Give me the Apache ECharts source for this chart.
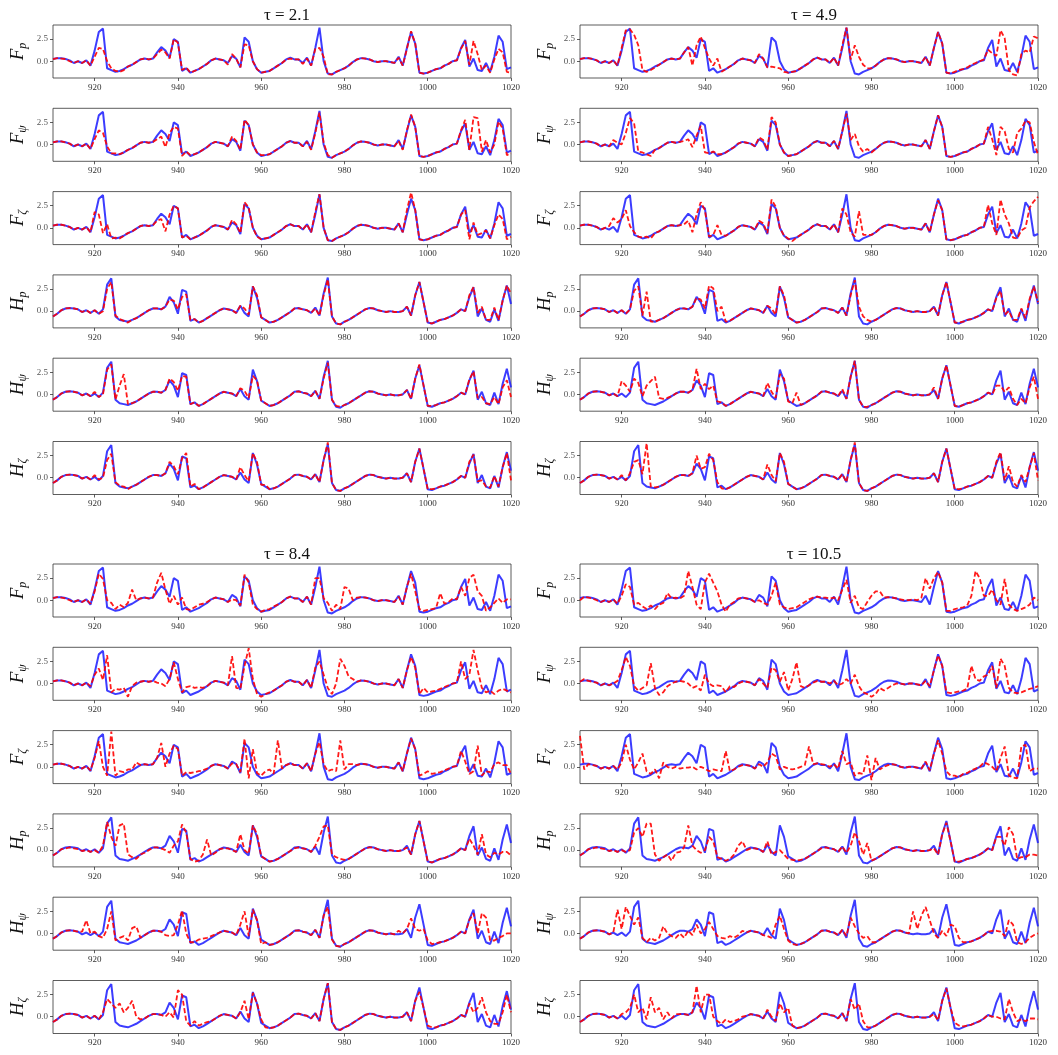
<!DOCTYPE html>
<html><head><meta charset="utf-8">
<script src="https://cdn.jsdelivr.net/npm/echarts@6/dist/echarts.min.js"></script>
<style>html,body{margin:0;padding:0;background:#fff}#c{width:1058px;height:1055px}</style>
</head><body><div id="c"></div>
<script>
const times = [910,911,912,913,914,915,916,917,918,919,920,921,922,923,924,925,926,927,928,929,930,931,932,933,934,935,936,937,938,939,940,941,942,943,944,945,946,947,948,949,950,951,952,953,954,955,956,957,958,959,960,961,962,963,964,965,966,967,968,969,970,971,972,973,974,975,976,977,978,979,980,981,982,983,984,985,986,987,988,989,990,991,992,993,994,995,996,997,998,999,1000,1001,1002,1003,1004,1005,1006,1007,1008,1009,1010,1011,1012,1013,1014,1015,1016,1017,1018,1019,1020];
const xTickValues = [920,940,960,980,1000,1020];
const yTickValues = [0, 2.5];
const titles = ['τ = 2.1','τ = 4.9','τ = 8.4','τ = 10.5'];
const rowNames = [['F','p'],['F','ψ'],['F','ζ'],['H','p'],['H','ψ'],['H','ζ']];

const blueF = [
0.25,0.35,0.35,0.25,0.1,-0.2,0.0,-0.2,0.1,-0.5,
1.2,3.3,3.7,-0.8,-1.0,-1.2,-1.1,-0.9,-0.6,-0.4,
-0.1,0.2,0.3,0.2,0.3,1.0,1.6,1.2,0.4,2.5,
2.2,-1.1,-0.8,-1.3,-1.1,-0.9,-0.6,-0.3,0.1,0.3,
0.2,0.1,-0.2,0.6,0.3,-0.7,2.7,2.2,0.0,-0.9,
-1.3,-1.2,-1.1,-0.8,-0.5,-0.2,0.2,0.4,0.2,0.2,
-0.2,0.4,-0.5,1.5,3.8,0.0,-1.4,-1.5,-1.2,-1.0,
-0.8,-0.5,-0.1,0.2,0.35,0.3,0.2,0.0,-0.1,0.0,
0.0,-0.1,-0.2,0.5,-0.5,1.5,3.3,2.0,-1.3,-1.4,
-1.3,-1.1,-0.9,-0.8,-0.5,-0.3,0.0,0.1,1.5,2.4,
-0.6,0.3,-1.0,-1.1,-0.2,-1.2,0.5,2.9,2.2,-0.9,-0.7];
const blueH = [
-0.6,-0.3,0.1,0.3,0.35,0.3,0.2,-0.1,0.1,-0.2,
0.1,-0.3,0.2,3.0,3.7,-0.6,-1.0,-1.1,-1.2,-1.0,
-0.8,-0.5,-0.2,0.1,0.3,0.3,0.2,0.5,1.6,1.0,
-0.3,2.4,2.2,-1.1,-0.9,-1.3,-1.1,-0.8,-0.5,-0.2,
0.1,0.3,0.2,0.1,-0.2,0.6,-0.2,-0.6,2.8,1.5,
-0.7,-1.0,-1.3,-1.2,-1.0,-0.7,-0.4,-0.1,0.3,0.35,
0.2,0.1,-0.2,0.4,-0.5,2.0,3.8,-0.6,-1.4,-1.5,
-1.2,-1.0,-0.7,-0.4,-0.1,0.2,0.35,0.3,0.1,0.0,
-0.1,0.0,-0.1,-0.1,0.0,0.5,-0.5,1.8,3.3,1.0,
-1.3,-1.4,-1.2,-1.0,-0.9,-0.7,-0.5,-0.2,0.2,0.0,
1.6,2.7,-0.6,0.3,-1.0,-1.2,0.2,-1.1,1.2,2.9,0.8];

const tau21_Fp = [
0.25,0.35,0.3,0.25,0.0,-0.2,0.0,-0.2,0.1,-0.5,
0.5,1.5,1.4,0.0,-0.8,-1.1,-1.2,-1.0,-0.6,-0.4,
-0.1,0.2,0.3,0.2,0.3,0.8,1.3,1.0,0.3,2.5,
2.1,-1.0,-0.7,-1.3,-1.1,-0.9,-0.6,-0.3,0.1,0.3,
0.2,0.1,-0.4,0.8,0.3,-0.7,1.9,1.8,0.0,-0.9,
-1.3,-1.2,-1.1,-0.8,-0.5,-0.2,0.2,0.3,0.2,0.2,
-0.3,0.3,-0.5,1.4,1.5,0.5,-1.5,-1.5,-1.2,-1.0,
-0.8,-0.5,-0.1,0.2,0.35,0.3,0.2,0.0,-0.1,0.0,
0.0,-0.1,-0.2,0.4,-0.5,1.4,3.4,2.0,-1.3,-1.4,
-1.3,-1.1,-0.9,-0.8,-0.5,-0.3,0.0,0.1,1.4,2.3,
-0.4,2.3,0.8,-1.0,-0.5,-1.3,0.2,1.4,1.0,-1.2,-1.3];
const tau21_Fpsi = [
0.25,0.35,0.35,0.25,0.1,-0.2,0.0,-0.2,0.1,-0.5,
0.6,1.6,1.3,-0.2,-1.0,-1.0,-1.1,-0.9,-0.6,-0.4,
-0.1,0.2,0.3,0.2,0.3,0.6,0.9,-0.3,1.3,2.0,
1.8,-1.3,-0.8,-1.2,-1.1,-0.9,-0.6,-0.3,0.1,0.3,
0.2,0.1,-0.2,0.9,0.4,-0.6,2.8,2.2,0.0,-0.9,
-1.2,-1.2,-1.1,-0.8,-0.5,-0.2,0.2,0.4,0.2,0.2,
-0.2,0.3,-0.6,1.3,3.6,0.2,-1.2,-1.5,-1.2,-1.0,
-0.8,-0.5,-0.1,0.2,0.35,0.3,0.2,0.0,-0.1,0.0,
0.0,-0.1,-0.2,0.4,-0.6,1.6,3.4,2.0,-1.3,-1.4,
-1.3,-1.1,-0.9,-0.8,-0.5,-0.3,0.0,0.1,1.6,2.8,
-0.6,3.1,3.0,-0.8,0.5,-0.9,0.0,2.6,1.8,-1.2,-1.0];
const tau21_Fzeta = [
0.25,0.35,0.35,0.25,0.1,-0.2,0.0,-0.2,0.1,-0.5,
1.8,1.5,-0.6,0.4,-1.2,-1.1,-1.2,-0.9,-0.6,-0.4,
-0.1,0.2,0.3,0.2,0.3,0.8,1.0,-0.4,1.5,2.5,
2.2,-1.1,-0.9,-1.3,-1.1,-0.9,-0.6,-0.3,0.1,0.3,
0.2,0.1,-0.2,0.9,0.4,-0.6,2.9,2.3,0.0,-1.0,
-1.3,-1.2,-1.1,-0.8,-0.5,-0.2,0.2,0.4,0.2,0.2,
-0.2,0.4,-0.5,1.8,3.8,0.0,-1.4,-1.5,-1.2,-1.0,
-0.8,-0.5,-0.1,0.2,0.35,0.3,0.2,0.0,-0.1,0.0,
0.0,-0.1,-0.2,0.5,-0.5,2.0,4.0,2.0,-1.3,-1.4,
-1.3,-1.1,-0.9,-0.8,-0.5,-0.3,0.0,0.1,1.5,2.0,
-1.3,0.6,-0.8,-0.6,-0.3,-1.2,0.3,1.5,1.0,-1.3,-1.0];
const tau21_Hp = [
-0.6,-0.3,0.1,0.3,0.35,0.3,0.2,-0.1,0.1,-0.2,
0.1,-0.3,0.0,2.5,3.3,-0.5,-0.9,-1.1,-1.3,-1.0,
-0.8,-0.5,-0.2,0.1,0.3,0.3,0.2,0.5,1.3,1.2,
0.2,1.6,1.9,-1.0,-0.9,-1.3,-1.1,-0.8,-0.5,-0.2,
0.1,0.3,0.2,0.1,-0.2,0.6,0.3,-0.4,2.8,1.8,
-0.7,-1.0,-1.3,-1.2,-1.0,-0.7,-0.4,-0.1,0.3,0.3,
0.2,0.1,-0.2,0.3,-0.5,1.8,3.6,-0.6,-1.4,-1.5,
-1.2,-1.0,-0.7,-0.4,-0.1,0.2,0.35,0.3,0.1,0.0,
-0.1,0.0,-0.1,-0.1,0.0,0.5,-0.5,1.8,3.3,1.0,
-1.3,-1.4,-1.2,-1.0,-0.9,-0.7,-0.5,-0.2,0.2,0.0,
1.8,2.7,-0.2,0.5,-1.0,-1.0,0.4,-1.0,1.2,2.9,2.0];
const tau21_Hpsi = [
-0.6,-0.3,0.1,0.3,0.35,0.3,0.2,-0.1,0.1,-0.2,
0.3,-0.3,0.0,2.8,3.4,-0.6,1.0,2.3,-1.1,-1.0,
-0.8,-0.5,-0.2,0.1,0.3,0.3,0.2,0.5,1.8,1.4,
0.4,2.1,2.0,-1.1,-0.9,-1.3,-1.1,-0.8,-0.5,-0.2,
0.1,0.3,0.2,0.1,-0.2,0.7,0.4,-0.4,2.1,1.6,
-0.7,-1.0,-1.3,-1.2,-1.0,-0.7,-0.4,-0.1,0.3,0.35,
0.2,0.1,-0.2,0.4,-0.5,1.8,3.6,-0.6,-1.3,-1.4,
-1.2,-1.0,-0.7,-0.4,-0.1,0.2,0.35,0.3,0.1,0.0,
-0.1,0.0,-0.1,-0.1,0.0,0.5,-0.5,1.8,3.4,1.0,
-1.3,-1.3,-1.2,-1.0,-0.9,-0.7,-0.5,-0.2,0.2,0.0,
1.7,2.6,-0.4,-0.3,-1.0,-1.1,-0.3,-1.1,0.8,1.6,-0.3];
const tau21_Hzeta = [
-0.6,-0.3,0.1,0.3,0.35,0.3,0.2,-0.1,0.1,-0.2,
0.3,-0.2,0.0,2.0,2.7,-0.5,-0.9,-1.0,-1.3,-1.0,
-0.8,-0.5,-0.2,0.1,0.3,0.3,0.2,0.5,1.8,1.3,
0.4,2.2,2.8,-1.0,-0.7,-1.3,-1.1,-0.8,-0.5,-0.2,
0.1,0.3,0.2,0.1,-0.2,1.2,0.3,-0.4,2.8,1.8,
-0.8,-0.8,-1.3,-1.2,-1.0,-0.7,-0.4,-0.1,0.3,0.35,
0.2,0.1,-0.2,0.4,-0.5,2.0,4.0,-0.6,-1.4,-1.5,
-1.2,-1.0,-0.7,-0.4,-0.1,0.2,0.35,0.3,0.1,0.0,
-0.1,0.0,-0.1,-0.1,0.0,0.5,-0.5,1.8,3.3,1.0,
-1.3,-1.3,-1.2,-1.0,-0.9,-0.7,-0.5,-0.2,0.2,0.0,
1.8,2.6,-0.4,-0.3,-1.0,-1.1,0.2,-1.0,1.2,2.8,-0.3];

const tau49_Fp = [
0.25,0.35,0.35,0.25,0.1,-0.2,0.0,-0.2,0.1,-0.5,
1.5,3.5,3.6,3.0,1.8,-1.0,-1.2,-1.0,-0.7,-0.4,
-0.1,0.2,0.3,0.2,0.3,1.0,1.6,-0.5,1.8,2.8,
1.5,0.3,-0.5,0.3,-1.2,-0.9,-0.6,-0.3,0.1,0.3,
0.2,0.1,-0.2,0.8,0.3,-0.7,-0.6,-0.7,-0.8,-1.2,
-1.3,-1.2,-1.1,-0.8,-0.5,-0.2,0.2,0.4,0.2,0.2,
-0.2,0.4,-0.5,1.8,3.8,0.2,1.8,0.5,-0.4,-0.8,
-0.8,-0.5,-0.1,0.2,0.35,0.3,0.2,0.0,-0.1,0.0,
0.0,-0.1,-0.2,0.5,-0.5,1.5,3.3,2.0,-1.3,-1.4,
-1.2,-1.0,-0.9,-0.7,-0.4,-0.2,0.0,0.2,1.3,0.9,
0.6,3.5,2.6,-1.0,-1.5,-1.6,0.8,1.2,1.0,2.8,2.6];
const tau49_Fpsi = [
0.25,0.35,0.35,0.25,0.1,-0.2,0.0,-0.2,0.5,0.2,
0.0,1.3,3.0,2.4,-0.8,-0.9,-1.1,-1.3,-0.6,-0.4,
-0.1,0.2,0.3,0.2,0.3,0.4,0.6,-0.3,1.0,2.1,
-0.9,-1.0,-0.8,-1.1,-1.1,-0.9,-0.6,-0.3,0.1,0.3,
0.2,0.1,-0.2,0.8,0.5,-0.6,3.1,2.5,0.0,-0.9,
-1.3,-1.2,-1.1,-0.8,-0.5,-0.2,0.2,0.4,0.2,0.2,
-0.2,0.4,-0.5,1.5,3.5,0.5,1.2,-0.2,-0.8,-0.5,
-0.9,-0.5,-0.1,0.2,0.35,0.3,0.2,0.0,-0.1,0.0,
0.0,-0.1,-0.2,0.5,-0.5,1.5,3.3,2.0,-1.3,-1.4,
-1.3,-1.1,-0.9,-0.8,-0.5,-0.3,0.0,0.1,2.0,0.6,
-1.2,2.0,1.5,-0.5,-0.9,1.3,1.8,2.7,2.5,0.3,-1.2];
const tau49_Fzeta = [
0.25,0.35,0.35,0.25,0.1,-0.2,0.0,0.2,1.1,0.6,
1.0,2.0,0.2,-0.5,-1.0,-1.1,-1.0,-1.2,-0.6,-0.4,
-0.1,0.2,0.3,0.2,0.3,0.4,0.8,-0.5,1.5,2.9,
2.0,-1.0,-0.8,0.3,-0.8,-0.9,-0.6,-0.3,0.1,0.3,
0.2,0.1,-0.2,0.8,0.5,-0.6,3.2,2.4,0.0,-0.9,
-1.2,-1.5,-1.1,-0.8,-0.5,-0.2,0.2,0.4,0.2,0.2,
-0.2,0.4,-0.5,2.2,1.5,-0.5,-1.0,1.9,-0.8,-0.8,
-0.8,-0.5,-0.1,0.2,0.35,0.3,0.2,0.0,-0.1,0.0,
0.0,-0.1,-0.2,0.5,-0.5,1.5,3.1,2.0,-1.3,-1.4,
-1.3,-1.1,-0.9,-0.8,-0.5,-0.3,0.0,0.1,2.6,0.5,
-0.8,3.2,1.5,0.5,-1.1,-1.2,-0.3,0.0,2.3,3.0,3.5];
const tau49_Hp = [
-0.6,-0.3,0.1,0.3,0.35,0.3,0.2,-0.1,0.1,-0.2,
0.1,-0.3,0.2,2.3,2.8,-0.5,2.2,-1.2,-1.2,-1.0,
-0.8,-0.5,-0.2,0.1,0.3,0.3,0.2,0.5,1.5,1.3,
0.3,2.9,2.6,0.0,0.5,-1.2,-1.1,-0.8,-0.5,-0.2,
0.1,0.3,0.2,0.1,-0.2,0.6,0.3,-0.4,2.8,1.8,
-0.7,-1.0,-1.3,-1.2,-1.0,-0.7,-0.4,-0.1,0.3,0.35,
0.2,0.1,-0.2,0.4,-0.5,1.8,3.5,0.5,-0.6,-1.0,
-1.2,-1.0,-0.7,-0.4,-0.1,0.2,0.35,0.3,0.1,0.0,
-0.1,0.0,-0.1,-0.1,0.0,0.5,-0.5,1.8,3.3,1.0,
-1.3,-1.3,-1.2,-1.0,-0.9,-0.7,-0.5,-0.2,0.2,0.0,
1.5,2.3,-0.4,0.0,-1.0,-1.0,0.3,-0.8,1.4,2.8,1.0];
const tau49_Hpsi = [
-0.6,-0.3,0.1,0.3,0.35,0.3,0.2,-0.1,0.1,-0.2,
1.5,1.0,0.3,1.8,1.3,-0.2,1.0,1.5,2.0,-0.4,
-0.5,-0.4,-0.2,0.1,0.3,0.3,0.2,0.5,2.9,0.6,
1.2,0.6,1.0,-0.8,-0.9,-1.3,-1.1,-0.8,-0.5,-0.2,
0.1,0.3,0.2,0.1,-0.2,1.3,0.3,-0.4,2.3,1.8,
-0.8,-1.0,0.2,-1.2,-1.0,-0.7,-0.4,-0.1,0.3,0.35,
0.2,0.1,-0.2,0.6,-0.5,2.0,3.8,-0.6,-1.4,-1.4,
-1.2,-1.0,-0.7,-0.4,-0.1,0.2,0.35,0.3,0.1,0.0,
-0.1,0.0,-0.1,-0.1,0.0,0.8,-0.5,1.8,3.3,1.0,
-1.3,-1.4,-1.2,-1.0,-0.9,-0.7,-0.5,-0.2,0.2,0.0,
1.0,1.0,0.3,0.8,-0.5,-1.2,-0.5,-1.0,0.8,2.0,-0.5];
const tau49_Hzeta = [
-0.6,-0.3,0.1,0.3,0.35,0.3,0.2,-0.1,0.1,-0.2,
0.3,-0.3,0.5,1.8,2.0,0.4,3.9,-1.0,-1.1,-1.0,
-0.8,-0.5,-0.2,0.1,0.3,0.3,0.2,0.5,2.5,1.0,
1.2,2.7,2.0,-0.5,-1.2,-1.3,-1.1,-0.8,-0.5,-0.2,
0.1,0.3,0.2,0.1,-0.2,1.5,0.3,-0.4,2.8,1.8,
-0.7,-1.0,-1.3,-1.2,-1.0,-0.7,-0.4,-0.1,0.3,0.35,
0.2,0.1,-0.2,0.4,-0.5,2.0,4.0,-0.6,-1.4,-1.5,
-1.2,-1.0,-0.7,-0.4,-0.1,0.2,0.35,0.3,0.1,0.0,
-0.1,0.0,-0.1,-0.1,0.0,0.5,-0.5,1.8,3.3,1.0,
-1.3,-1.3,-1.2,-1.0,-0.9,-0.7,-0.5,-0.2,0.2,0.0,
1.8,2.9,-0.3,1.3,-0.5,-1.0,0.3,-0.5,1.2,2.8,-0.3];

const tau84_Fp = [
0.25,0.35,0.3,0.2,0.0,-0.2,0.0,-0.2,0.1,-0.4,
1.0,3.0,2.4,0.0,-0.3,-1.0,-0.5,-0.8,-0.3,1.2,
0.0,0.2,0.3,0.2,0.3,2.0,3.1,1.2,-0.4,0.5,
-0.5,0.3,-1.0,-1.1,-0.8,-0.5,-0.4,-0.2,0.1,0.3,
0.2,0.1,-0.2,0.1,0.0,-0.6,2.9,2.0,-0.5,-1.0,
-1.3,-1.1,-1.0,-0.7,-0.5,-0.2,0.2,0.4,0.2,0.2,
-0.2,0.4,-0.5,2.5,2.5,0.2,-0.3,-1.2,-0.5,-1.0,
1.5,1.3,0.0,0.3,0.35,0.3,0.2,0.0,-0.1,0.0,
0.0,-0.1,-0.2,0.4,-0.5,1.5,3.0,1.0,-1.0,-1.2,
-1.1,-1.0,-0.9,0.8,-0.4,-0.2,0.2,0.1,1.5,0.5,
2.5,2.9,1.0,0.5,-1.2,-0.8,-0.3,0.2,-0.3,0.1,0.1];
const tau84_Fpsi = [
0.25,0.35,0.35,0.25,0.1,-0.2,0.0,-0.2,0.1,-0.3,
1.0,1.7,0.4,3.2,-1.0,-0.6,-0.7,-0.5,-1.5,-0.3,
0.1,0.2,0.3,0.2,0.3,0.1,0.0,-0.3,0.5,2.4,
0.5,-1.0,-0.4,-0.3,-0.5,-0.4,-0.5,-0.3,0.1,0.3,
0.2,0.1,-0.2,3.1,-0.5,-0.6,2.0,4.0,0.5,-1.2,
-1.5,-1.2,-1.0,-0.8,-0.5,-0.2,0.2,0.4,0.2,0.2,
-0.2,0.4,-0.5,1.8,2.5,1.0,-0.5,-1.2,0.0,2.8,
2.0,0.8,0.5,0.2,0.35,0.3,0.2,0.0,-0.1,0.0,
0.0,-0.1,-0.2,0.5,-0.5,1.5,3.0,1.8,-1.2,-0.5,
-1.0,-0.9,-0.8,-0.6,-0.4,-0.2,0.0,0.1,2.5,0.5,
1.0,3.8,1.5,-0.5,-1.0,-0.8,-1.2,-0.8,-0.6,-0.8,-1.0];
const tau84_Fzeta = [
0.25,0.35,0.35,0.25,0.1,-0.2,0.0,-0.2,0.1,-0.4,
1.0,2.9,0.0,-1.0,4.0,-1.0,-0.5,-0.6,-0.3,-0.3,
0.5,0.2,0.3,0.2,0.3,1.0,2.7,0.0,1.5,2.4,
2.0,-1.0,-0.6,-0.7,-0.6,-0.5,-0.4,-0.2,0.1,0.3,
0.2,0.1,-0.2,0.4,0.3,-0.6,3.2,-1.3,2.0,-0.7,
-1.0,-0.5,-0.3,-0.8,3.0,-0.2,0.2,0.4,0.2,0.2,
-0.2,0.4,-0.5,1.5,2.8,0.3,-0.5,-0.3,-0.5,3.0,
-0.3,0.3,0.3,0.2,0.35,0.3,0.2,0.0,-0.1,0.0,
0.0,-0.1,-0.2,0.5,-0.5,1.5,3.2,2.0,-1.0,-0.8,
-0.5,-0.8,-0.7,-0.6,-0.4,-0.2,0.0,0.1,1.8,0.6,
-0.8,-0.5,2.4,-1.0,-0.5,-0.6,0.3,0.5,0.2,0.2,-0.8];
const tau84_Hp = [
-0.6,-0.3,0.1,0.2,0.3,0.2,0.1,-0.1,0.0,-0.2,
0.0,-0.3,0.5,3.2,1.5,0.5,2.8,3.0,-0.5,-0.8,
-1.0,-0.5,-0.3,0.0,0.3,0.3,0.2,0.0,-0.3,0.5,
1.0,2.9,2.0,-1.0,-1.3,-1.2,-0.5,1.2,-0.6,-0.3,
0.1,0.2,0.2,0.0,-0.2,1.8,0.0,-0.4,2.8,1.8,
-0.7,-1.0,-1.3,-1.2,-1.0,-0.7,-0.4,-0.1,0.2,0.3,
0.2,0.1,-0.2,0.5,1.5,2.7,2.8,-0.5,-0.8,-1.0,
-1.1,-1.0,-0.7,-0.4,-0.1,0.2,0.3,0.3,0.1,0.0,
-0.1,0.0,-0.1,-0.1,0.0,0.3,-0.5,1.8,3.3,1.0,
-1.3,-1.4,-1.2,-1.0,-0.9,-0.7,-0.5,-0.2,0.2,0.0,
1.3,0.5,-0.5,1.8,-0.5,-0.8,-0.3,-0.5,-0.2,-0.2,-0.6];
const tau84_Hpsi = [
-0.6,-0.3,0.1,0.3,0.35,0.3,0.2,0.2,1.5,0.0,
0.2,-0.3,-0.5,0.5,2.5,-0.8,-0.5,-0.3,-0.8,0.6,
0.8,-0.5,-0.2,0.1,0.3,0.3,0.2,-0.2,-0.3,-0.2,
1.0,2.6,0.0,-1.0,-1.0,-0.7,-0.6,-0.5,-0.3,-0.1,
0.1,0.3,0.2,0.1,-0.2,1.0,2.5,-0.3,2.7,1.5,
-1.2,-1.0,-1.3,-1.2,-1.0,-0.7,-0.4,-0.1,0.3,0.35,
0.2,0.1,-0.2,0.4,-0.5,2.0,3.0,-0.7,-1.4,-1.5,
-1.2,-1.0,-0.7,-0.4,-0.1,0.2,0.35,0.3,0.1,0.0,
-0.1,0.0,-0.1,0.3,0.0,0.5,1.7,0.5,0.3,0.5,
-0.8,-1.2,-1.1,-1.0,-0.9,-0.7,-0.5,-0.2,0.2,0.0,
1.5,2.3,0.0,2.3,1.8,-0.8,-0.8,-0.5,-0.3,0.0,0.0];
const tau84_Hzeta = [
-0.6,-0.3,0.1,0.3,0.35,0.3,0.2,-0.1,0.1,-0.2,
0.1,-0.3,0.5,2.0,1.5,1.0,1.5,0.5,1.0,1.8,
0.0,-0.3,-0.2,0.1,0.3,0.3,0.2,0.0,0.5,-0.1,
3.0,2.5,-0.5,-1.0,-0.5,-1.0,-0.8,-0.6,-0.5,-0.2,
0.1,0.3,0.2,0.1,-0.2,0.5,1.8,-0.3,2.7,1.5,
-0.3,-1.2,-1.3,-1.2,-1.0,-0.7,-0.4,-0.1,0.3,0.35,
0.2,0.1,-0.2,0.4,-0.5,2.0,3.8,-0.6,-1.4,-1.5,
-1.2,-1.0,-0.7,-0.4,-0.1,0.2,0.35,0.3,0.1,0.0,
-0.1,0.0,-0.1,-0.1,0.0,0.5,-0.5,1.8,2.8,1.0,
-1.0,-1.2,-1.2,-1.0,-0.9,-0.7,-0.5,-0.2,0.2,0.0,
1.5,0.5,1.0,2.2,0.5,-0.5,-0.8,-0.8,0.5,2.5,0.5];

const tau105_Fp = [
0.0,0.4,0.3,0.2,0.0,-0.2,0.0,-0.2,0.1,-0.4,
0.5,1.8,1.5,-0.5,-0.3,-0.7,-1.0,-0.6,-1.0,-0.5,
-0.3,0.8,0.2,0.3,0.2,0.5,3.3,1.5,-0.5,-1.0,
2.0,3.0,2.0,1.0,-0.5,-1.3,-0.5,-0.2,0.2,0.3,
0.2,0.1,-0.2,0.0,-0.3,-0.5,0.5,2.0,-0.5,-0.8,
-1.0,-0.9,-0.8,-0.5,-0.2,0.1,0.3,0.4,0.3,0.3,
0.2,0.3,0.0,1.2,2.3,-0.3,0.5,-0.8,-1.0,-0.2,
0.5,1.0,1.0,0.3,0.35,0.3,0.2,0.1,0.0,0.0,
0.1,0.0,0.3,2.5,1.3,2.5,3.2,2.0,-1.2,-1.2,
-1.0,-0.9,-0.8,-0.6,0.5,3.3,2.5,0.5,0.5,1.2,
0.0,-0.5,2.4,-0.5,-1.0,-1.2,-1.0,-0.8,-0.5,0.3,0.0];
const tau105_Fpsi = [
0.2,0.5,0.3,0.2,0.1,-0.2,0.0,-0.2,0.0,0.3,
1.5,3.0,2.0,-0.3,-0.8,-0.5,-0.2,2.3,-0.5,-1.3,
-1.0,-0.3,0.0,0.2,0.3,0.2,0.0,-0.5,-0.3,-0.8,
1.0,0.0,-0.3,-0.2,-0.3,-1.0,-0.3,-0.4,0.0,0.2,
0.2,0.1,-0.2,0.5,0.0,-0.5,1.8,1.5,0.2,1.3,
-0.8,0.5,2.4,-0.3,-0.5,-0.2,0.1,0.3,0.2,0.2,
0.0,0.3,-0.2,0.0,0.5,0.0,1.0,-0.3,-1.0,-1.2,
-1.5,-1.2,-0.5,-0.8,-0.5,-0.2,0.0,0.0,-0.1,0.0,
0.0,-0.1,-0.2,0.3,-0.3,1.5,3.2,2.0,-1.0,-1.1,
-1.0,-0.9,-0.8,-0.6,2.0,0.5,0.3,0.8,1.0,2.0,
-0.5,2.8,2.0,-0.5,-1.0,-1.1,-1.0,-0.8,-0.6,-0.5,-0.3];
const tau105_Fzeta = [
3.5,-0.3,0.3,0.2,0.1,-0.2,0.0,-0.2,0.1,-0.3,
0.5,2.5,0.8,-0.3,0.5,1.5,-0.5,-0.8,-0.3,-1.3,
0.5,0.0,-0.2,0.0,-0.2,-0.1,-0.1,0.0,-0.3,0.0,
-0.2,-0.5,-0.3,-0.4,-0.5,1.8,-0.5,-0.3,0.0,0.2,
0.2,0.1,-0.2,0.3,0.0,0.5,1.5,1.2,-0.3,0.0,
-0.2,-0.3,-0.2,0.0,0.2,2.3,0.3,0.4,0.3,0.2,
0.0,0.3,-0.2,1.8,0.3,0.5,-1.0,-0.7,-0.8,1.3,
-1.5,1.0,-0.3,0.0,0.2,0.3,0.2,0.0,-0.1,0.0,
0.0,-0.1,-0.2,0.6,-0.4,1.5,3.0,1.5,-0.5,-1.0,
-1.0,-1.2,-0.8,-0.7,-0.4,-0.2,0.0,0.5,0.3,0.0,
-0.5,1.0,2.3,-1.0,-1.2,-1.3,2.3,2.5,-0.5,-0.2,-0.2];
const tau105_Hp = [
-0.6,-0.3,0.1,0.2,0.3,0.2,0.1,-0.1,0.0,-0.2,
0.0,-0.2,0.0,2.0,2.5,1.5,3.0,3.0,-0.5,-1.2,
-0.8,-0.5,-1.2,-0.3,-0.2,0.3,2.8,0.5,0.0,-0.3,
0.0,1.5,1.0,-0.8,-1.0,-1.2,-1.0,-0.5,0.5,1.0,
0.0,0.2,0.2,0.1,-0.2,1.0,-0.5,-0.2,0.0,-0.5,
-1.0,-1.1,-1.2,-1.1,-1.0,-0.7,-0.4,-0.1,0.2,0.3,
0.2,0.1,-0.2,0.4,-0.3,0.5,2.0,1.0,-0.5,0.8,
-1.2,-1.0,-0.7,-0.4,-0.1,0.2,0.35,0.3,0.1,0.0,
-0.1,0.0,-0.1,-0.1,0.0,0.2,-0.5,1.8,3.1,1.0,
-1.3,-1.3,-1.2,-1.0,-0.9,-0.7,-0.5,-0.2,0.2,0.0,
1.5,1.5,0.5,2.6,1.8,-1.0,-0.8,-0.8,-0.5,-0.5,-0.6];
const tau105_Hpsi = [
-0.6,-0.3,0.1,0.3,0.35,0.3,0.2,-0.1,0.1,2.7,
0.5,3.0,2.0,1.0,1.8,-0.5,-1.0,-0.5,-0.8,-0.5,
0.8,0.0,-0.3,-0.5,0.0,-0.5,0.3,-0.2,1.0,0.0,
0.5,1.3,0.5,-0.3,-0.5,-0.6,-0.3,-0.5,-0.2,0.3,
0.1,0.3,0.2,0.1,-0.2,-0.3,-0.5,1.0,2.0,0.5,
-0.8,-1.2,-1.3,-1.2,-1.0,-0.7,-0.4,-0.1,0.3,0.35,
0.2,0.1,-0.2,0.4,-0.3,1.8,0.8,0.0,-0.5,-0.3,
-1.0,-1.0,-0.7,-0.4,-0.1,0.2,0.35,0.3,0.1,0.0,
2.5,0.5,2.0,3.0,1.5,0.0,-0.5,0.3,-0.3,1.0,
0.8,-0.5,-1.0,-1.0,-0.9,-0.7,-0.5,-0.2,0.2,0.3,
0.3,0.2,-0.3,1.5,1.0,-1.0,-1.2,-1.0,-0.5,-0.2,0.0];
const tau105_Hzeta = [
-0.6,-0.3,0.1,0.3,0.35,0.3,0.2,-0.1,0.1,-0.2,
0.3,0.5,1.0,2.5,0.5,1.0,-0.3,2.2,0.5,1.0,
-0.3,0.5,-0.2,0.3,0.3,0.3,0.2,0.5,3.5,0.5,
2.5,2.5,0.0,-0.5,-0.8,-0.3,-0.6,-0.5,-0.3,0.0,
0.1,0.3,0.2,0.1,-0.2,0.8,0.0,-0.5,1.5,0.5,
1.0,-1.0,-1.3,-1.2,-1.0,-0.7,-0.4,-0.1,0.3,0.35,
0.2,0.1,-0.2,0.4,-0.5,2.0,0.8,1.5,-0.5,-1.2,
-1.2,-1.0,-0.7,-0.4,-0.1,0.2,0.35,0.3,0.1,0.0,
-0.1,0.0,-0.1,-0.1,0.0,0.3,-0.4,1.8,3.2,1.0,
-0.7,-1.0,-1.1,-1.0,-0.9,-0.7,-0.5,-0.2,0.2,0.0,
0.0,-0.2,-0.3,2.0,0.5,-0.5,-0.3,-0.5,-0.2,-0.2,-0.3];

const groups = [
  {left: 53,  top: 25,  reds: [tau21_Fp, tau21_Fpsi, tau21_Fzeta, tau21_Hp, tau21_Hpsi, tau21_Hzeta]},
  {left: 580, top: 25,  reds: [tau49_Fp, tau49_Fpsi, tau49_Fzeta, tau49_Hp, tau49_Hpsi, tau49_Hzeta]},
  {left: 53,  top: 564, reds: [tau84_Fp, tau84_Fpsi, tau84_Fzeta, tau84_Hp, tau84_Hpsi, tau84_Hzeta]},
  {left: 580, top: 564, reds: [tau105_Fp, tau105_Fpsi, tau105_Fzeta, tau105_Hp, tau105_Hpsi, tau105_Hzeta]}
];
const W = 458, H = 53, STEP = 83.3;
const SERIF = 'Liberation Serif';
const grid = [], xAxis = [], yAxis = [], series = [], title = [];
groups.forEach((g, gi) => {
  title.push({
    text: titles[gi], left: g.left + W / 2, top: g.top - 23, textAlign: 'center',
    textStyle: {fontFamily: SERIF, fontSize: 17, fontWeight: 'normal', color: '#111'}
  });
  for (let r = 0; r < 6; r++) {
    const idx = grid.length;
    grid.push({left: g.left, top: g.top + r * STEP, width: W, height: H, show: true,
      borderColor: '#333', borderWidth: 0.8, backgroundColor: 'transparent'});
    xAxis.push({type: 'value', gridIndex: idx, min: 910, max: 1020, position: 'bottom',
      axisLine: {show: false, onZero: false}, splitLine: {show: false},
      axisTick: {show: true, customValues: xTickValues, length: 3, lineStyle: {color: '#333', width: 0.8}},
      axisLabel: {show: true, customValues: xTickValues, fontFamily: SERIF, fontSize: 9, color: '#333', margin: 5,
        formatter: v => String(v)}});
    yAxis.push({type: 'value', gridIndex: idx, min: -1.9, max: 4.1, position: 'left',
      axisLine: {show: false, onZero: false}, splitLine: {show: false},
      axisTick: {show: true, customValues: yTickValues, length: 3, lineStyle: {color: '#333', width: 0.8}},
      axisLabel: {show: true, customValues: yTickValues, fontFamily: SERIF, fontSize: 9, color: '#555', margin: 5,
        formatter: v => v.toFixed(1)},
      name: '{i|' + rowNames[r][0] + '}{s|' + rowNames[r][1] + '}',
      nameLocation: 'middle', nameRotate: 90, nameGap: 24,
      nameTextStyle: {rich: {
        i: {fontFamily: SERIF, fontStyle: 'italic', fontSize: 19, color: '#111', lineHeight: 22, verticalAlign: 'middle'},
        s: {fontFamily: SERIF, fontStyle: 'italic', fontSize: 12, color: '#111', lineHeight: 22, verticalAlign: 'bottom', padding: [6, 0, 0, 0]}
      }}});
    const blue = r < 3 ? blueF : blueH;
    const red = g.reds[r];
    series.push({type: 'line', xAxisIndex: idx, yAxisIndex: idx, showSymbol: false, silent: true,
      data: times.map((t, i) => [t, blue[i]]),
      lineStyle: {color: '#1a1aff', width: 2, opacity: 0.85}, z: 2});
    series.push({type: 'line', xAxisIndex: idx, yAxisIndex: idx, showSymbol: false, silent: true,
      data: times.map((t, i) => [t, red[i]]),
      lineStyle: {color: '#ff0000', width: 1.8, type: [5, 2.5], opacity: 0.9}, z: 3});
  }
});
const chart = echarts.init(document.getElementById('c'));
chart.setOption({animation: false, backgroundColor: '#fff', title, grid, xAxis, yAxis, series});
</script></body></html>
